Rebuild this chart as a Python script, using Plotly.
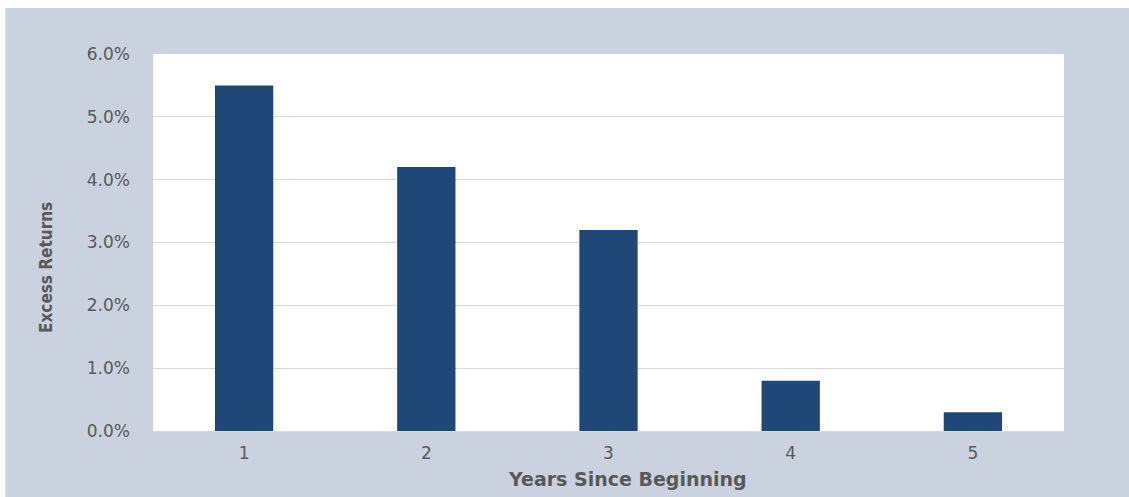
import plotly.graph_objects as go

# Excess returns by year since beginning
years = ["1", "2", "3", "4", "5"]
excess_returns = [0.055, 0.042, 0.032, 0.008, 0.003]
y_ticks = [0, 0.01, 0.02, 0.03, 0.04, 0.05, 0.06]
y_tick_labels = ["0.0%", "1.0%", "2.0%", "3.0%", "4.0%", "5.0%", "6.0%"]

BG = "#C9D2DE"
BAR = "#1F4778"
TEXT = "#595959"
GRID = "#D9D9D9"

fig = go.Figure(
    go.Bar(
        x=years,
        y=excess_returns,
        marker=dict(color=BAR, line=dict(width=0)),
        hovertemplate="%{x}: %{y:.1%}<extra></extra>",
    )
)

W, H = 1129, 497
L, R, T, B = 153, 65, 54, 66
pw, ph = W - L - R, H - T - B


def px_x(p):
    return (p - L) / pw


def px_y(p):
    return (H - B - p) / ph


fig.update_layout(
    width=W,
    height=H,
    margin=dict(l=L, r=R, t=T, b=B, pad=0),
    paper_bgcolor=BG,
    plot_bgcolor="white",
    bargap=0.68,
    showlegend=False,
    font=dict(family="DejaVu Sans", color=TEXT),
    xaxis=dict(
        type="category",
        showgrid=False,
        showline=True,
        linecolor=GRID,
        linewidth=1,
        ticks="",
        tickfont=dict(family="DejaVu Sans", size=17, color=TEXT),
        ticklabelstandoff=7,
    ),
    yaxis=dict(
        range=[0, 0.06],
        tickvals=y_ticks,
        ticktext=y_tick_labels,
        showgrid=True,
        gridcolor=GRID,
        gridwidth=1,
        zeroline=False,
        showline=False,
        ticks="",
        tickfont=dict(family="DejaVu Sans", size=17, color=TEXT),
        ticklabelstandoff=22,
    ),
    shapes=[
        # white frame strips around the grey card
        dict(type="rect", xref="paper", yref="paper",
             x0=px_x(-5), x1=px_x(W + 5), y0=px_y(8), y1=px_y(-5),
             fillcolor="white", line=dict(width=0), layer="below"),
        dict(type="rect", xref="paper", yref="paper",
             x0=px_x(-5), x1=px_x(6), y0=px_y(W), y1=px_y(-5),
             fillcolor="white", line=dict(width=0), layer="below"),
        dict(type="line", xref="paper", yref="paper",
             x0=px_x(5.5), x1=px_x(5.5), y0=px_y(H + 5), y1=px_y(8),
             line=dict(color="#E2E2E2", width=1)),
    ],
    annotations=[
        dict(text="Excess Returns", textangle=-90,
             x=px_x(46), y=px_y(268), xref="paper", yref="paper",
             showarrow=False, xanchor="center", yanchor="middle",
             font=dict(family="DejaVu Sans Condensed, Roboto", size=17,
                       color=TEXT, weight="bold")),
        dict(text="Years Since Beginning",
             x=px_x(627), y=px_y(479), xref="paper", yref="paper",
             showarrow=False, xanchor="center", yanchor="middle",
             font=dict(family="DejaVu Sans", size=19, color=TEXT, weight="bold")),
    ],
)

fig.write_html("out.html")
